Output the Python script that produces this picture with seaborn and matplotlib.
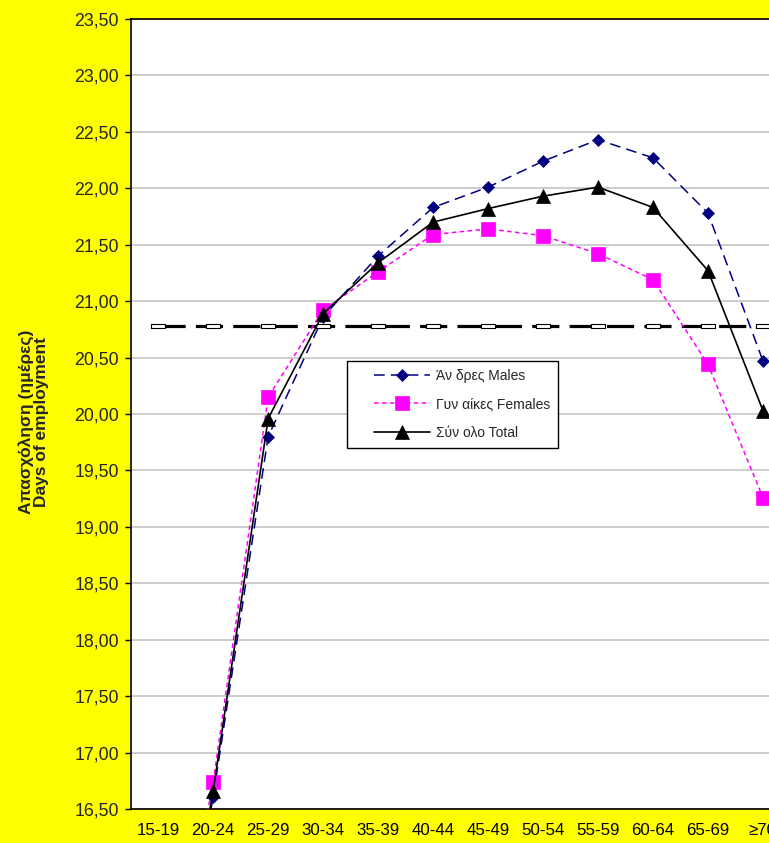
import matplotlib
matplotlib.use("Agg")
import matplotlib.pyplot as plt
import seaborn as sns
import pandas as pd
from matplotlib.ticker import FixedLocator, FuncFormatter
from matplotlib.legend_handler import HandlerLine2D

# ---- data ----
age_groups = ["15-19", "20-24", "25-29", "30-34", "35-39", "40-44", "45-49",
              "50-54", "55-59", "60-64", "65-69", "≥70"]
males = [13.9, 16.61, 19.80, 20.86, 21.40, 21.83, 22.01, 22.24, 22.43, 22.27, 21.78, 20.47]
females = [14.2, 16.74, 20.15, 20.92, 21.26, 21.59, 21.64, 21.58, 21.42, 21.19, 20.44, 19.26]
total = [14.0, 16.66, 19.96, 20.89, 21.34, 21.70, 21.82, 21.93, 22.01, 21.83, 21.27, 20.03]
average = [20.78, 20.78, 20.78, 20.78, 20.78, 20.78, 20.78, 20.78, 20.78, 20.78, 20.78, 20.78]
labels = ["Άν δρες Males", "Γυν αίκες Females", "Σύν ολο Total"]
y_ticks = [16.5, 17.0, 17.5, 18.0, 18.5, 19.0, 19.5, 20.0, 20.5, 21.0, 21.5, 22.0, 22.5, 23.0, 23.5]

df = pd.DataFrame({"age": age_groups, "males": males, "females": females,
                   "total": total, "average": average})

sns.set_style("white")
plt.rcParams["font.family"] = ["Liberation Sans", "DejaVu Sans"]

fig = plt.figure(figsize=(7.69, 8.43), dpi=100, facecolor="#FFFF00")
ax = fig.add_axes([0.170, 0.0403, 0.830, 0.9372])
ax.set_facecolor("white")

rect_marker = [(-1, -0.3), (1, -0.3), (1, 0.3), (-1, 0.3), (-1, -0.3)]

sns.lineplot(data=df, x="age", y="average", ax=ax, sort=False, errorbar=None,
             color="black", lw=2.3, linestyle=(0, (8.5, 3.2)),
             marker=rect_marker, markersize=10, markerfacecolor="white",
             markeredgecolor="black", markeredgewidth=0.8, legend=False, zorder=2)
sns.lineplot(data=df, x="age", y="males", ax=ax, sort=False, errorbar=None,
             color="#000080", lw=1.1, linestyle=(0, (7, 4)),
             marker="D", markersize=6.6, markerfacecolor="#000080",
             markeredgecolor="#000080", markeredgewidth=0.5, label=labels[0], zorder=3)
sns.lineplot(data=df, x="age", y="females", ax=ax, sort=False, errorbar=None,
             color="#FF00FF", lw=1.1, linestyle=(0, (3, 2.2)),
             marker="s", markersize=10, markerfacecolor="#FF00FF",
             markeredgecolor="#FF00FF", markeredgewidth=0.5, label=labels[1], zorder=3)
sns.lineplot(data=df, x="age", y="total", ax=ax, sort=False, errorbar=None,
             color="black", lw=1.2, linestyle="-",
             marker="^", markersize=9.5, markerfacecolor="black",
             markeredgecolor="black", markeredgewidth=0.5, label=labels[2], zorder=4)

ax.set_xlim(-0.5, 11.11)
ax.set_ylim(16.5, 23.5)

ax.yaxis.set_major_locator(FixedLocator(y_ticks))
ax.yaxis.set_major_formatter(FuncFormatter(lambda v, p: f"{v:.2f}".replace(".", ",")))
ax.grid(axis="y", color="#C0C0C0", lw=1.1)
ax.grid(axis="x", visible=False)
ax.set_axisbelow(True)

ax.set_xticks(range(len(age_groups)))
ax.set_xticklabels(age_groups)
ax.set_xticks([i - 0.5 for i in range(len(age_groups))], minor=True)
ax.tick_params(axis="x", which="major", length=0, pad=10, labelsize=12.2, colors="black")
ax.tick_params(axis="x", which="minor", length=4.5, width=1, color="black", direction="out")
ax.tick_params(axis="y", which="major", length=4.5, width=1, color="black",
               direction="out", pad=4, labelsize=12.8, left=True)

for side in ["left", "bottom", "top"]:
    ax.spines[side].set_color("black")
    ax.spines[side].set_linewidth(1.2)
ax.spines["right"].set_visible(False)

ax.set_xlabel("")
ax.set_ylabel("Απασχόληση (ημέρες)\nDays of employment", fontsize=12.5,
              fontweight="bold", va="center", linespacing=1.0)
ax.yaxis.set_label_coords(-0.152, 0.49)

leg_fs = 10
handler = HandlerLine2D(xpad=1.4)
handles, hlabels = ax.get_legend_handles_labels()
leg = ax.legend(handles, hlabels, loc="upper left", bbox_to_anchor=(0.339, 0.567),
                borderaxespad=0, frameon=True, fancybox=False, shadow=False,
                fontsize=leg_fs, handlelength=5.4, labelspacing=1.05, borderpad=0.55,
                handletextpad=0.45, handler_map={type(handles[0]): handler})
leg.get_frame().set_edgecolor("black")
leg.get_frame().set_linewidth(1.0)
leg.get_frame().set_facecolor("white")
leg.get_frame().set_alpha(1)

fig.savefig("out.png", dpi=100, facecolor=fig.get_facecolor())
